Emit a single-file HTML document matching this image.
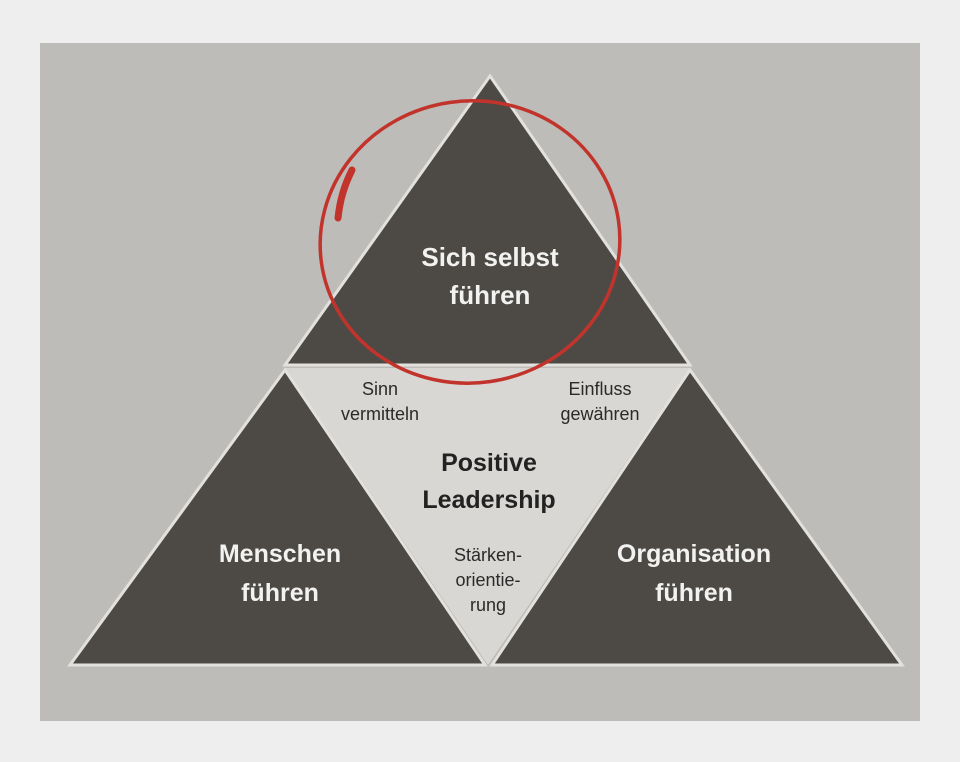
<!DOCTYPE html>
<html><head><meta charset="utf-8"><style>
html,body{margin:0;padding:0;background:#ededed;}
svg{display:block}
</style></head><body>
<svg width="960" height="762" viewBox="0 0 960 762" xmlns="http://www.w3.org/2000/svg">
<rect x="0" y="0" width="960" height="762" fill="#eeeeee"/>
<rect x="40" y="43" width="880" height="678" fill="#bdbcb8"/>
<polygon points="285,368 690,368 488,665" fill="#d8d7d3"/>
<polygon points="490,76 285,365 690,365" fill="#4d4a46" stroke="#e2e1dd" stroke-width="3"/>
<polygon points="285,370 70,665 485,665" fill="#4d4a46" stroke="#e2e1dd" stroke-width="3"/>
<polygon points="690,370 492,665 902,665" fill="#4d4a46" stroke="#e2e1dd" stroke-width="3"/>
<g font-family="'Liberation Sans',sans-serif" text-anchor="middle">
<text x="490" y="266" fill="#f2f2f0" font-size="26" font-weight="bold">Sich selbst</text>
<text x="490" y="304" fill="#f2f2f0" font-size="26" font-weight="bold">führen</text>
<text x="280" y="562" fill="#f2f2f0" font-size="25" font-weight="bold">Menschen</text>
<text x="280" y="601" fill="#f2f2f0" font-size="25" font-weight="bold">führen</text>
<text x="694" y="562" fill="#f2f2f0" font-size="25" font-weight="bold">Organisation</text>
<text x="694" y="601" fill="#f2f2f0" font-size="25" font-weight="bold">führen</text>
<text x="489" y="471" fill="#222" font-size="25" font-weight="bold">Positive</text>
<text x="489" y="508" fill="#222" font-size="25" font-weight="bold">Leadership</text>
<g fill="#2a2a2a" font-size="18">
<text x="380" y="395">Sinn</text>
<text x="380" y="420">vermitteln</text>
<text x="600" y="395">Einfluss</text>
<text x="600" y="420">gewähren</text>
<text x="488" y="561">Stärken-</text>
<text x="488" y="586">orientie-</text>
<text x="488" y="611">rung</text>
</g>
</g>
<ellipse cx="470" cy="242" rx="150" ry="141" transform="rotate(-8 470 242)" fill="none" stroke="#c2332c" stroke-width="3.5"/>
<path d="M338,218 C340,200 344,186 352,170" fill="none" stroke="#c2332c" stroke-width="7" stroke-linecap="round"/>
</svg>
</body></html>
